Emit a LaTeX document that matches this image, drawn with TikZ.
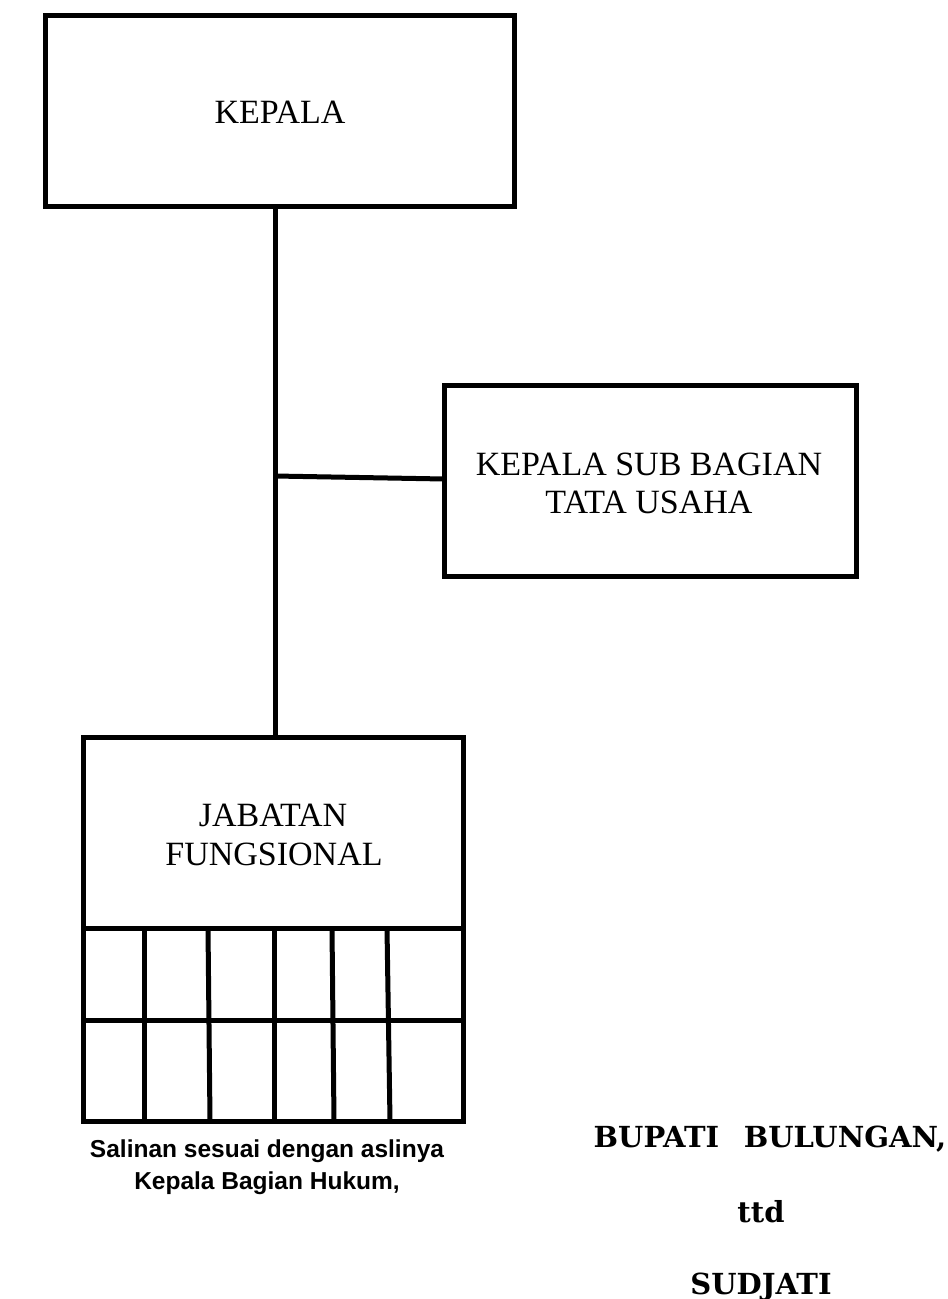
\documentclass[tikz,border=0pt]{standalone}
\usepackage{fontspec}
\setmainfont{Liberation Serif}
\newfontfamily\arialb{Liberation Sans}
\newfontfamily\bookb{DejaVu Serif}
\begin{document}
\begin{tikzpicture}[x=1pt,y=-1pt,
  box/.style={draw=black,line width=5pt,line join=miter},
  conn/.style={draw=black,line width=5pt},
  boxtext/.style={font=\fontsize{34}{38}\selectfont,inner sep=0pt,anchor=base},
  leftnote/.style={font=\arialb\bfseries\fontsize{24.5}{32}\selectfont,align=center,inner sep=0pt},
  sign/.style={font=\bookb\bfseries\fontsize{29}{34}\selectfont,inner sep=0pt,anchor=base}]
\useasboundingbox (0,0) rectangle (948,1299);
% boxes
\draw[box] (45.5,15.5) rectangle (514,206);
\draw[box] (444.5,385.5) rectangle (856.5,576.5);
\draw[box] (83,737) rectangle (463,1121);
\coordinate (kb) at (275,206);
\coordinate (jt) at (275,737);
\coordinate (jn) at (275,476);
\coordinate (se) at (444.5,479);
\draw[conn] (kb) -- (jt);
\draw[conn] (jn) -- (se);
% grid
\draw[conn] (83,928) -- (463,928);
\draw[conn] (83,1020) -- (463,1020);
\draw[conn] (144,928) -- (144,1121);
\draw[conn] (208,928) -- (210,1121);
\draw[conn] (274,928) -- (274,1121);
\draw[conn] (332,928) -- (334,1121);
\draw[conn] (387,928) -- (390,1121);
% texts
\node[boxtext] (kepala) at (280,123) {KEPALA};
\node[boxtext] (sub1) at (649,475) {KEPALA SUB BAGIAN};
\node[boxtext] (sub2) at (649,513) {TATA USAHA};
\node[boxtext] (jab1) at (273,826) {JABATAN};
\node[boxtext] (jab2) at (274,865) {FUNGSIONAL};
\node[leftnote] (salinan) at (267,1167) {Salinan sesuai dengan aslinya\\Kepala Bagian Hukum,};
\node[sign] (bupati) at (770,1147) {BUPATI\hspace{0.5em} BULUNGAN,};
\node[sign] (ttd) at (761,1222) {ttd};
\node[sign] (sudjati) at (761,1294) {SUDJATI};
\end{tikzpicture}
\end{document}
